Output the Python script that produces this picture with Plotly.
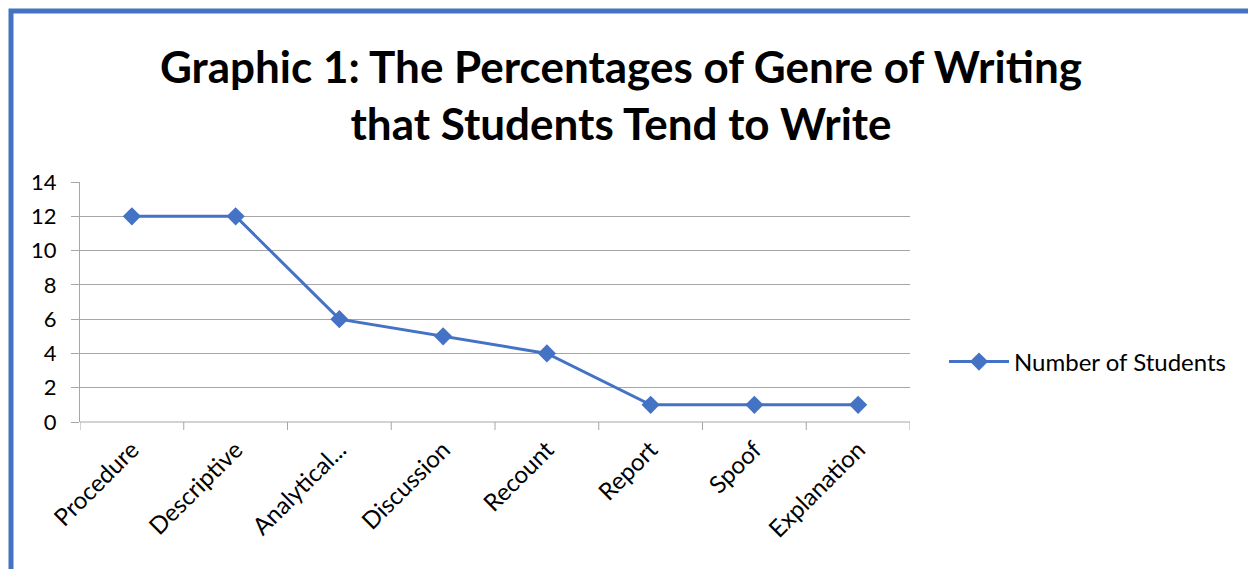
import plotly.graph_objects as go

categories = ["Procedure", "Descriptive", "Analytical...", "Discussion", "Recount", "Report", "Spoof", "Explanation"]
students = [12, 12, 6, 5, 4, 1, 1, 1]
y_ticks = [0, 2, 4, 6, 8, 10, 12, 14]

BLUE = "#4472C4"
GRID = "#A6A6A6"
FONT = "Lato, 'Open Sans', sans-serif"

L, R, T, B = 80, 910, 182, 422
W, H = 1248, 569

def px(x):
    return (x - L) / (R - L)

def py(y):
    return (B - y) / (B - T)

fig = go.Figure()
fig.add_trace(go.Scatter(
    x=list(range(len(categories))), y=students, mode="lines+markers",
    name="Number of Students",
    line=dict(color=BLUE, width=3),
    marker=dict(symbol="diamond", size=14, color=BLUE),
))

fig.update_layout(
    width=W, height=H,
    margin=dict(l=L, r=W - R, t=T, b=H - B, pad=0),
    paper_bgcolor="white", plot_bgcolor="white",
    font=dict(family=FONT, size=24, color="#000000"),
    title=dict(
        text="<b>Graphic 1: The Percentages of Genre of Writing<br>that Students Tend to Write</b>",
        x=621 / W, xanchor="center", xref="container",
        y=1 - 83 / H, yanchor="top", yref="container",
        font=dict(family=FONT, size=44, color="#000000"),
    ),
    showlegend=True,
    legend=dict(x=px(944), xanchor="left", y=py(362), yanchor="middle",
                font=dict(size=24), bgcolor="rgba(0,0,0,0)", itemwidth=60),
    xaxis=dict(
        tickmode="array", tickvals=list(range(len(categories))), ticktext=categories,
        range=[-0.5, len(categories) - 0.5], tickangle=-45,
        showgrid=False, zeroline=False, showline=False,
        ticks="", tickfont=dict(size=24), ticklabelstandoff=8,
    ),
    yaxis=dict(
        range=[0, 14], tickvals=y_ticks, ticktext=[str(v) for v in y_ticks],
        showgrid=True, gridcolor=GRID, gridwidth=1, zeroline=False,
        showline=True, linecolor=GRID, linewidth=1,
        ticks="outside", ticklen=8, tickcolor=GRID, tickfont=dict(size=22),
        ticklabelstandoff=10,
    ),
    shapes=[
        *[dict(type="line", xref="x", yref="paper", x0=i - 0.5, x1=i - 0.5,
               y0=0, y1=-8 / (B - T), line=dict(color=GRID, width=1))
          for i in range(len(categories) + 1)],
        dict(type="line", xref="paper", yref="paper", x0=0, x1=1, y0=0, y1=0,
             line=dict(color=GRID, width=1)),
        dict(type="rect", xref="paper", yref="paper",
             x0=px(11), x1=px(1270), y0=py(600), y1=py(11),
             line=dict(color=BLUE, width=5), fillcolor="rgba(0,0,0,0)", layer="below"),
    ],
)

fig.write_html("out.html")
